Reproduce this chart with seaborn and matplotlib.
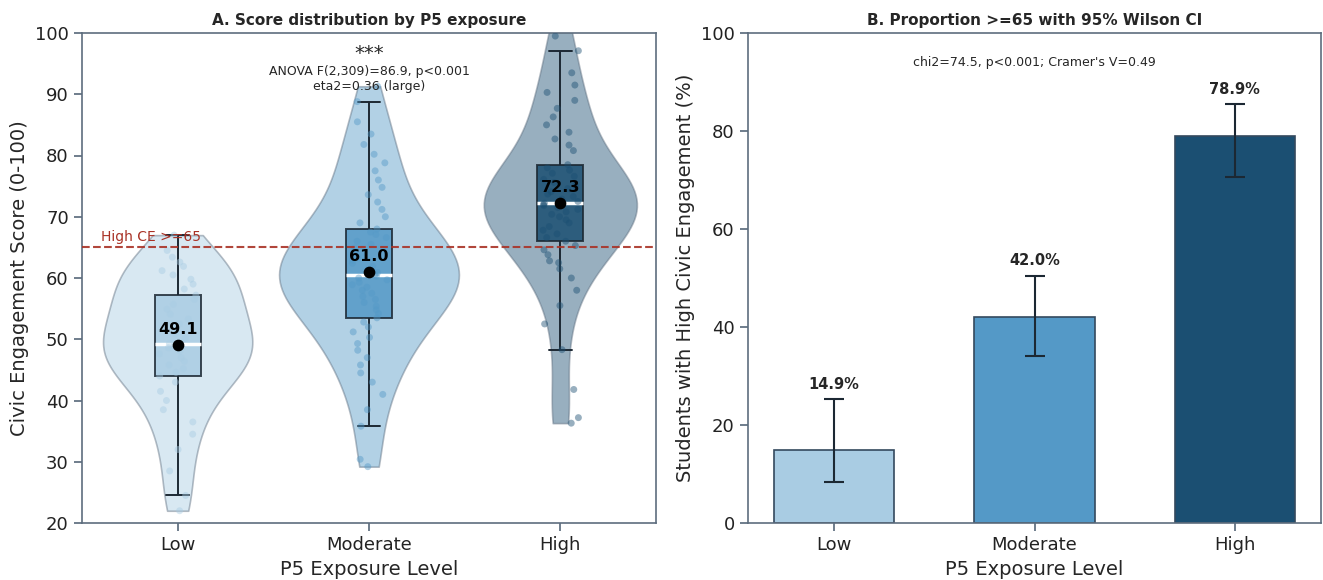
import numpy as np
import pandas as pd
import matplotlib
matplotlib.use("Agg")
import matplotlib.pyplot as plt
import seaborn as sns

# categories and colours
groups = ["Low", "Moderate", "High"]
colors = ["#a9cce3", "#5499c7", "#1b4f72"]

# civic engagement scores per exposure group
low_scores = [22.0, 24.5, 28.5, 32.0, 34.5, 36.5, 38.5, 40.0, 41.5, 43.0,
              44.0, 44.6, 45.2, 45.8, 46.4, 47.0, 47.6, 48.1, 48.6, 49.0,
              49.3, 50.1, 50.9, 51.7, 52.5, 53.3, 54.1, 54.9, 55.7, 56.5,
              57.2, 58.2, 59.0, 59.8, 60.5, 61.2, 61.9, 62.6, 63.4, 64.5,
              67.0]
moderate_scores = [29.2, 30.4, 35.8, 38.5, 41.0, 43.0, 44.5, 45.8, 47.0, 48.2,
                   49.3, 50.3, 51.2, 52.0, 52.8, 53.5, 54.2, 54.8, 55.4, 56.0,
                   56.5, 57.0, 57.5, 58.0, 58.5, 58.9, 59.3, 59.7, 60.0, 60.3,
                   60.5, 60.9, 61.4, 61.9, 62.4, 62.9, 63.4, 63.9, 64.4, 64.9,
                   65.5, 66.0, 66.6, 67.1, 67.5, 68.0, 69.0, 70.0, 71.2, 72.4,
                   73.6, 74.8, 76.0, 77.5, 78.8, 80.2, 81.8, 83.5, 85.5, 88.8,
                   91.3]
high_scores = [36.3, 37.2, 41.8, 48.3, 52.5, 55.5, 58.0, 60.0, 61.5, 62.5,
               62.8, 63.8, 64.6, 65.3, 66.0, 66.6, 67.2, 67.8, 68.4, 69.0,
               69.5, 70.0, 70.4, 70.8, 71.2, 71.5, 71.8, 72.0, 72.2, 72.5,
               72.9, 73.3, 73.7, 74.1, 74.6, 75.1, 75.6, 76.1, 76.6, 77.1,
               77.6, 78.0, 78.5, 80.8, 81.7, 82.7, 83.8, 85.0, 86.3, 87.7,
               89.0, 90.3, 91.5, 93.5, 97.1, 99.5, 101.0]

# proportion >= 65 with 95% Wilson CI
prop_pct = [14.9, 42.0, 78.9]
ci_low = [8.3, 34.0, 70.7]
ci_high = [25.3, 50.5, 85.5]

threshold = 65
anova_text = "ANOVA F(2,309)=86.9, p<0.001\neta2=0.36 (large)"
chi_text = "chi2=74.5, p<0.001; Cramer's V=0.49"

score_lists = [low_scores, moderate_scores, high_scores]
df = pd.DataFrame({
    "group": sum([[g] * len(s) for g, s in zip(groups, score_lists)], []),
    "score": sum(score_lists, []),
})

sns.set_theme(style="ticks")
plt.rcParams["font.family"] = ["DejaVu Sans"]
spine_col = "#5d6d7e"
line_col = "#1c2833"

fig = plt.figure(figsize=(13.23, 5.8), dpi=100)
ax1 = fig.add_axes([82 / 1323, 57 / 580, 574 / 1323, 490 / 580])
ax2 = fig.add_axes([748 / 1323, 57 / 580, 573 / 1323, 490 / 580])

# ---- A. violins + boxes + points
for g, c, w in zip(groups, colors, [0.78, 0.94, 0.80]):
    sub = df[df["group"] == g]
    sns.violinplot(data=sub, x="group", y="score", order=groups, color=c,
                   inner=None, cut=0, width=w, density_norm="width",
                   bw_adjust=0.9, saturation=1, linewidth=1.2,
                   linecolor=spine_col, alpha=0.45, ax=ax1)

np.random.seed(3)
sns.stripplot(data=df, x="group", y="score", hue="group", order=groups,
              hue_order=groups, palette=colors, legend=False, jitter=0.1,
              size=5, alpha=0.45, ax=ax1)

sns.boxplot(data=df, x="group", y="score", hue="group", order=groups,
            hue_order=groups, palette=colors, legend=False, width=0.24,
            showfliers=False, saturation=1, linecolor=line_col, linewidth=1.4,
            medianprops=dict(color="white", linewidth=2.5),
            boxprops=dict(alpha=0.85), ax=ax1)

means = [np.mean(s) for s in score_lists]
ax1.scatter(range(len(groups)), means, color="black", s=55, zorder=5)
for i, m in enumerate(means):
    ax1.text(i, m + 1.3, f"{m:.1f}", ha="center", va="bottom",
             fontsize=11.5, fontweight="bold", color="black", zorder=6)

ax1.axhline(threshold, color="#a93226", ls="--", lw=1.5, alpha=0.9, zorder=4)
ax1.text(-0.4, threshold + 0.6, f"High CE >={threshold}", color="#a93226",
         fontsize=10, ha="left", va="bottom")

ax1.text(1, 96.7, "***", ha="center", va="center", fontsize=14)
ax1.text(1, 94.8, anova_text, ha="center", va="top", fontsize=9)

ax1.set_xlim(-0.5, 2.5)
ax1.set_ylim(20, 100)
ax1.set_title("A. Score distribution by P5 exposure", fontsize=11,
              fontweight="bold")
ax1.set_xlabel("P5 Exposure Level", fontsize=14)
ax1.set_ylabel("Civic Engagement Score (0-100)", fontsize=14)

# ---- B. proportion bars with Wilson CI
sns.barplot(x=groups, y=prop_pct, hue=groups, palette=colors, legend=False,
            width=0.6, saturation=1, edgecolor="#34495e", linewidth=1.2,
            ax=ax2)
yerr = [np.array(prop_pct) - np.array(ci_low),
        np.array(ci_high) - np.array(prop_pct)]
ax2.errorbar(range(len(groups)), prop_pct, yerr=yerr, fmt="none",
             ecolor=line_col, elinewidth=1.5, capsize=7, capthick=1.5)
for i, (p, hi) in enumerate(zip(prop_pct, ci_high)):
    ax2.text(i, hi + 1.5, f"{p:.1f}%", ha="center", va="bottom",
             fontsize=10.5, fontweight="bold")
ax2.text(1, 94.0, chi_text, ha="center", va="center", fontsize=9)

ax2.set_xlim(-0.43, 2.43)
ax2.set_ylim(0, 100)
ax2.set_title("B. Proportion >=65 with 95% Wilson CI", fontsize=11,
              fontweight="bold")
ax2.set_xlabel("P5 Exposure Level", fontsize=14)
ax2.set_ylabel("Students with High Civic Engagement (%)", fontsize=14)

for ax in (ax1, ax2):
    for sp in ax.spines.values():
        sp.set_color(spine_col)
        sp.set_linewidth(1.2)
    ax.tick_params(labelsize=13, color=spine_col, labelcolor="#222222")

fig.savefig("out.png", dpi=100)
